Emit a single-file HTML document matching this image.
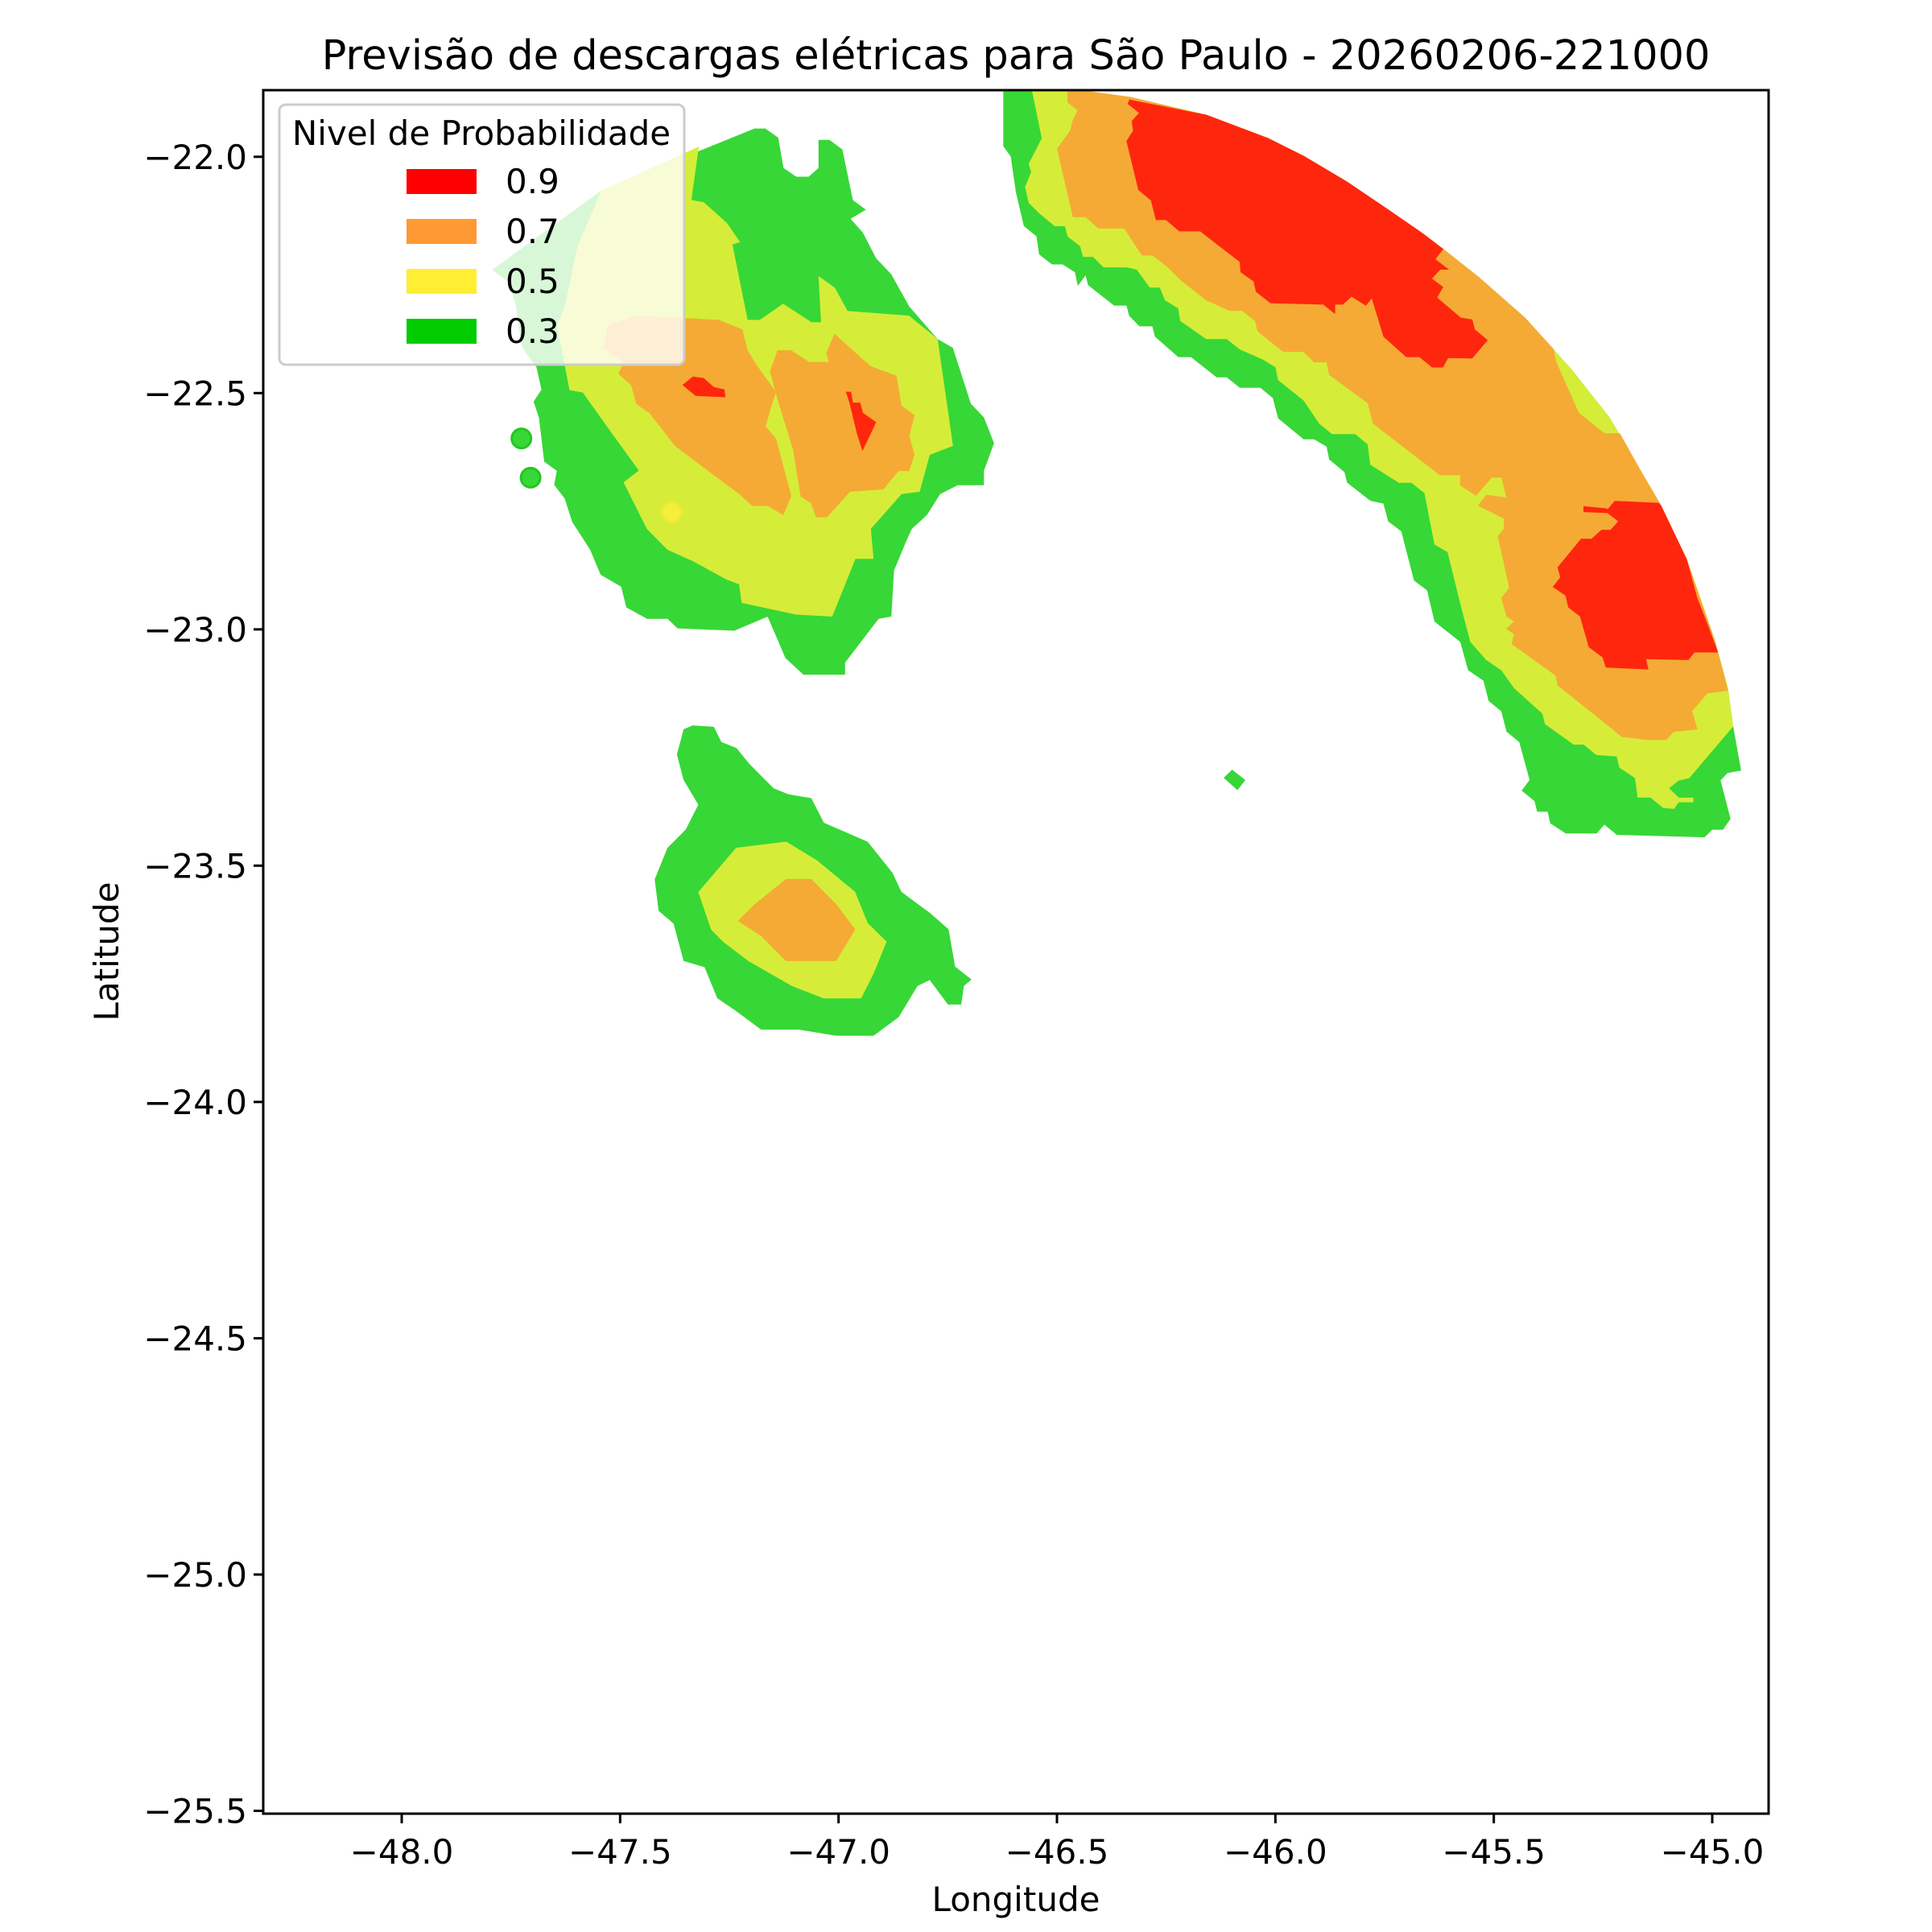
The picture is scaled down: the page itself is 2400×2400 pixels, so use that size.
<!DOCTYPE html>
<html><head><meta charset="utf-8"><style>
html,body{margin:0;padding:0;background:#fff;}
svg{display:block;font-family:"DejaVu Sans","Liberation Sans",sans-serif;}
</style></head><body>
<svg id="chart" width="2400" height="2400" viewBox="0 0 2400 2400" xmlns="http://www.w3.org/2000/svg">
<rect x="0" y="0" width="2400" height="2400" fill="#fff"/>
<defs><clipPath id="plotclip"><rect x="327" y="112" width="1870" height="2141"/></clipPath></defs>
<text x="1262" y="86" font-size="51" text-anchor="middle">Previsão de descargas elétricas para São Paulo - 20260206-221000</text>
<g id="marks" clip-path="url(#plotclip)"></g>
<g id="axes"></g>
<text x="1262" y="2374" font-size="42" text-anchor="middle">Longitude</text>
<text x="0" y="0" font-size="42" text-anchor="middle" transform="translate(147,1182) rotate(-90)">Latitude</text>
<g>
<rect x="347" y="130" width="503" height="323" rx="8" fill="#fff" fill-opacity="0.8" stroke="#ccc" stroke-width="3"/>
<text x="598" y="180" font-size="42" text-anchor="middle">Nivel de Probabilidade</text>
<rect x="505" y="210" width="87" height="31" fill="#ff0000"/>
<text x="628" y="240" font-size="42">0.9</text>
<rect x="505" y="272" width="87" height="31" fill="#ff9933"/>
<text x="628" y="302" font-size="42">0.7</text>
<rect x="505" y="334" width="87" height="31" fill="#ffee33"/>
<text x="628" y="364" font-size="42">0.5</text>
<rect x="505" y="396" width="87" height="31" fill="#00cc00"/>
<text x="628" y="426" font-size="42">0.3</text>
</g>
</svg>
<script>
const xTicks=[-48.0,-47.5,-47.0,-46.5,-46.0,-45.5,-45.0];
const xTickLabels=["−48.0","−47.5","−47.0","−46.5","−46.0","−45.5","−45.0"];
const yTicks=[-22.0,-22.5,-23.0,-23.5,-24.0,-24.5,-25.0,-25.5];
const yTickLabels=["−22.0","−22.5","−23.0","−23.5","−24.0","−24.5","−25.0","−25.5"];
const levels=[0.3,0.5,0.7,0.9];
const arcB=[[-46.463,-21.858],[-46.334,-21.874],[-46.158,-21.912],[-46.017,-21.961],[-45.935,-21.999],[-45.835,-22.054],[-45.741,-22.113],[-45.664,-22.162],[-45.617,-22.195],[-45.535,-22.255],[-45.429,-22.341],[-45.323,-22.450],[-45.235,-22.553],[-45.159,-22.673],[-45.118,-22.738],[-45.059,-22.852],[-44.994,-23.026],[-44.965,-23.124],[-44.953,-23.205],[-44.935,-23.298]];
const greenA=[[-47.791,-22.239],[-47.544,-22.073],[-47.192,-21.941],[-47.168,-21.941],[-47.139,-21.960],[-47.127,-22.024],[-47.097,-22.043],[-47.068,-22.043],[-47.045,-22.024],[-47.045,-21.965],[-47.021,-21.965],[-46.992,-21.985],[-46.968,-22.092],[-46.939,-22.112],[-46.974,-22.131],[-46.945,-22.161],[-46.915,-22.215],[-46.880,-22.249],[-46.839,-22.317],[-46.774,-22.386],[-46.739,-22.405],[-46.698,-22.523],[-46.668,-22.552],[-46.645,-22.606],[-46.668,-22.664],[-46.668,-22.694],[-46.727,-22.694],[-46.768,-22.713],[-46.798,-22.757],[-46.833,-22.787],[-46.845,-22.811],[-46.874,-22.875],[-46.880,-22.972],[-46.909,-22.977],[-46.986,-23.070],[-46.986,-23.095],[-47.080,-23.095],[-47.121,-23.060],[-47.139,-23.021],[-47.162,-22.972],[-47.239,-23.002],[-47.368,-22.997],[-47.391,-22.977],[-47.438,-22.977],[-47.485,-22.953],[-47.497,-22.909],[-47.544,-22.884],[-47.568,-22.831],[-47.609,-22.772],[-47.626,-22.723],[-47.650,-22.694],[-47.644,-22.664],[-47.673,-22.645],[-47.685,-22.552],[-47.697,-22.518],[-47.679,-22.493],[-47.691,-22.444],[-47.715,-22.415],[-47.726,-22.395],[-47.738,-22.312],[-47.756,-22.263]];
const yellowA=[[-47.544,-22.073],[-47.321,-21.980],[-47.338,-22.092],[-47.309,-22.097],[-47.256,-22.141],[-47.227,-22.180],[-47.244,-22.185],[-47.209,-22.346],[-47.180,-22.346],[-47.127,-22.312],[-47.062,-22.351],[-47.039,-22.351],[-47.045,-22.254],[-47.009,-22.278],[-46.980,-22.327],[-46.839,-22.337],[-46.774,-22.386],[-46.739,-22.611],[-46.792,-22.630],[-46.815,-22.708],[-46.856,-22.713],[-46.927,-22.787],[-46.921,-22.850],[-46.962,-22.850],[-47.015,-22.972],[-47.097,-22.968],[-47.221,-22.943],[-47.227,-22.904],[-47.256,-22.894],[-47.333,-22.855],[-47.391,-22.831],[-47.438,-22.787],[-47.491,-22.689],[-47.456,-22.664],[-47.521,-22.581],[-47.585,-22.498],[-47.615,-22.493],[-47.644,-22.356],[-47.626,-22.317],[-47.597,-22.190],[-47.556,-22.102]];
const orangeA1=[[-47.527,-22.356],[-47.462,-22.337],[-47.274,-22.346],[-47.221,-22.366],[-47.209,-22.410],[-47.186,-22.444],[-47.144,-22.498],[-47.156,-22.532],[-47.168,-22.571],[-47.144,-22.596],[-47.109,-22.718],[-47.127,-22.757],[-47.162,-22.738],[-47.197,-22.738],[-47.227,-22.713],[-47.291,-22.669],[-47.374,-22.611],[-47.432,-22.542],[-47.462,-22.523],[-47.474,-22.483],[-47.503,-22.459],[-47.491,-22.435],[-47.538,-22.405]];
const orangeA2=[[-47.139,-22.410],[-47.109,-22.410],[-47.068,-22.435],[-47.021,-22.435],[-47.027,-22.415],[-47.009,-22.376],[-46.962,-22.415],[-46.927,-22.444],[-46.868,-22.464],[-46.857,-22.527],[-46.827,-22.547],[-46.839,-22.591],[-46.827,-22.630],[-46.839,-22.664],[-46.863,-22.664],[-46.898,-22.703],[-46.974,-22.708],[-47.027,-22.762],[-47.051,-22.762],[-47.062,-22.733],[-47.086,-22.718],[-47.103,-22.620],[-47.139,-22.513],[-47.156,-22.454]];
const redA1=[[-47.356,-22.483],[-47.333,-22.466],[-47.309,-22.469],[-47.286,-22.488],[-47.262,-22.493],[-47.260,-22.508],[-47.327,-22.505]];
const redA2=[[-46.982,-22.498],[-46.972,-22.498],[-46.968,-22.521],[-46.951,-22.521],[-46.945,-22.542],[-46.915,-22.562],[-46.945,-22.620],[-46.957,-22.586],[-46.974,-22.521]];
const greenC=[[-47.354,-23.212],[-47.334,-23.204],[-47.286,-23.207],[-47.269,-23.239],[-47.234,-23.252],[-47.206,-23.284],[-47.149,-23.337],[-47.114,-23.350],[-47.063,-23.358],[-47.034,-23.410],[-46.934,-23.450],[-46.877,-23.516],[-46.857,-23.556],[-46.791,-23.601],[-46.749,-23.635],[-46.734,-23.714],[-46.697,-23.741],[-46.714,-23.754],[-46.720,-23.793],[-46.749,-23.793],[-46.791,-23.741],[-46.820,-23.754],[-46.863,-23.820],[-46.920,-23.859],[-47.006,-23.859],[-47.091,-23.846],[-47.177,-23.846],[-47.234,-23.807],[-47.277,-23.780],[-47.306,-23.714],[-47.354,-23.701],[-47.377,-23.622],[-47.411,-23.595],[-47.420,-23.529],[-47.391,-23.463],[-47.349,-23.424],[-47.320,-23.371],[-47.354,-23.318],[-47.369,-23.265]];
const yellowC=[[-47.234,-23.463],[-47.120,-23.450],[-47.049,-23.490],[-46.963,-23.556],[-46.934,-23.622],[-46.891,-23.661],[-46.920,-23.727],[-46.949,-23.780],[-47.034,-23.780],[-47.106,-23.754],[-47.206,-23.701],[-47.263,-23.661],[-47.291,-23.635],[-47.320,-23.556]];
const orangeC=[[-47.191,-23.582],[-47.120,-23.529],[-47.063,-23.529],[-47.006,-23.582],[-46.963,-23.635],[-47.006,-23.701],[-47.120,-23.701],[-47.177,-23.648],[-47.229,-23.617]];
const greenBInner=[[-44.965,-23.303],[-44.982,-23.319],[-44.959,-23.401],[-44.976,-23.423],[-45.000,-23.423],[-45.018,-23.439],[-45.218,-23.434],[-45.247,-23.412],[-45.265,-23.431],[-45.335,-23.431],[-45.370,-23.410],[-45.376,-23.385],[-45.400,-23.385],[-45.406,-23.363],[-45.435,-23.341],[-45.417,-23.319],[-45.441,-23.238],[-45.470,-23.216],[-45.482,-23.173],[-45.511,-23.151],[-45.523,-23.108],[-45.558,-23.086],[-45.576,-23.026],[-45.635,-22.983],[-45.652,-22.917],[-45.682,-22.896],[-45.711,-22.792],[-45.741,-22.771],[-45.752,-22.733],[-45.782,-22.727],[-45.835,-22.689],[-45.841,-22.667],[-45.876,-22.640],[-45.882,-22.613],[-45.911,-22.597],[-45.935,-22.597],[-45.993,-22.553],[-46.005,-22.510],[-46.034,-22.488],[-46.081,-22.488],[-46.111,-22.466],[-46.134,-22.466],[-46.193,-22.423],[-46.222,-22.423],[-46.275,-22.380],[-46.281,-22.358],[-46.311,-22.358],[-46.334,-22.336],[-46.340,-22.314],[-46.369,-22.314],[-46.428,-22.271],[-46.434,-22.249],[-46.452,-22.271],[-46.458,-22.244],[-46.487,-22.227],[-46.511,-22.227],[-46.540,-22.206],[-46.546,-22.168],[-46.575,-22.146],[-46.593,-22.075],[-46.605,-21.999],[-46.622,-21.977]];
const yellowBInner=[[-45.053,-23.314],[-45.077,-23.319],[-45.100,-23.336],[-45.077,-23.357],[-45.044,-23.357],[-45.044,-23.365],[-45.077,-23.365],[-45.088,-23.379],[-45.112,-23.377],[-45.141,-23.355],[-45.170,-23.355],[-45.176,-23.314],[-45.212,-23.292],[-45.218,-23.268],[-45.265,-23.265],[-45.294,-23.243],[-45.317,-23.243],[-45.382,-23.200],[-45.388,-23.178],[-45.453,-23.124],[-45.482,-23.086],[-45.517,-23.064],[-45.553,-23.026],[-45.576,-22.945],[-45.605,-22.836],[-45.635,-22.820],[-45.658,-22.711],[-45.688,-22.689],[-45.717,-22.689],[-45.782,-22.651],[-45.788,-22.608],[-45.817,-22.586],[-45.870,-22.586],[-45.899,-22.564],[-45.935,-22.515],[-45.993,-22.472],[-45.999,-22.445],[-46.029,-22.428],[-46.081,-22.407],[-46.111,-22.385],[-46.158,-22.385],[-46.217,-22.347],[-46.222,-22.320],[-46.252,-22.303],[-46.264,-22.276],[-46.287,-22.276],[-46.317,-22.238],[-46.340,-22.233],[-46.393,-22.233],[-46.417,-22.211],[-46.440,-22.211],[-46.446,-22.189],[-46.475,-22.168],[-46.481,-22.146],[-46.505,-22.146],[-46.540,-22.119],[-46.564,-22.097],[-46.572,-22.064],[-46.558,-22.032],[-46.564,-22.015],[-46.546,-21.983],[-46.534,-21.961]];
const orangeBNotch=[[-45.364,-22.407],[-45.358,-22.434],[-45.306,-22.542],[-45.247,-22.586],[-45.212,-22.586]];
const orangeBInner=[[-44.965,-23.129],[-45.012,-23.135],[-45.047,-23.173],[-45.035,-23.211],[-45.088,-23.216],[-45.106,-23.233],[-45.147,-23.233],[-45.206,-23.227],[-45.353,-23.118],[-45.358,-23.097],[-45.458,-23.031],[-45.453,-23.010],[-45.470,-22.999],[-45.453,-22.983],[-45.470,-22.972],[-45.482,-22.934],[-45.464,-22.912],[-45.490,-22.803],[-45.476,-22.787],[-45.476,-22.765],[-45.535,-22.738],[-45.517,-22.716],[-45.470,-22.722],[-45.482,-22.678],[-45.505,-22.678],[-45.541,-22.716],[-45.576,-22.695],[-45.576,-22.673],[-45.623,-22.673],[-45.776,-22.564],[-45.788,-22.521],[-45.876,-22.461],[-45.882,-22.434],[-45.911,-22.434],[-45.935,-22.412],[-45.982,-22.412],[-46.040,-22.369],[-46.046,-22.347],[-46.076,-22.325],[-46.105,-22.325],[-46.158,-22.303],[-46.217,-22.260],[-46.246,-22.233],[-46.281,-22.208],[-46.305,-22.208],[-46.346,-22.151],[-46.405,-22.151],[-46.434,-22.127],[-46.463,-22.127],[-46.499,-21.983],[-46.469,-21.945],[-46.463,-21.923],[-46.452,-21.901],[-46.475,-21.885]];
const redB1Inner=[[-45.635,-22.217],[-45.605,-22.238],[-45.623,-22.238],[-45.643,-22.258],[-45.617,-22.276],[-45.631,-22.298],[-45.576,-22.341],[-45.550,-22.345],[-45.544,-22.366],[-45.515,-22.388],[-45.550,-22.426],[-45.605,-22.425],[-45.617,-22.445],[-45.641,-22.445],[-45.670,-22.423],[-45.700,-22.423],[-45.752,-22.380],[-45.779,-22.298],[-45.793,-22.314],[-45.826,-22.295],[-45.846,-22.312],[-45.864,-22.312],[-45.864,-22.331],[-45.890,-22.312],[-46.011,-22.309],[-46.044,-22.285],[-46.049,-22.263],[-46.079,-22.244],[-46.081,-22.222],[-46.172,-22.157],[-46.220,-22.157],[-46.250,-22.133],[-46.273,-22.133],[-46.284,-22.092],[-46.313,-22.070],[-46.340,-21.967],[-46.325,-21.945],[-46.328,-21.925],[-46.311,-21.907],[-46.337,-21.888]];
const redB2=[[-45.223,-22.729],[-45.123,-22.733],[-45.118,-22.738],[-45.059,-22.852],[-45.035,-22.934],[-45.012,-22.988],[-44.988,-23.048],[-45.041,-23.048],[-45.055,-23.064],[-45.153,-23.062],[-45.147,-23.084],[-45.243,-23.080],[-45.250,-23.059],[-45.282,-23.037],[-45.302,-22.972],[-45.329,-22.953],[-45.335,-22.928],[-45.364,-22.910],[-45.347,-22.890],[-45.353,-22.869],[-45.300,-22.809],[-45.276,-22.809],[-45.253,-22.790],[-45.232,-22.790],[-45.214,-22.771],[-45.243,-22.751]];
const redB3=[[-45.294,-22.740],[-45.241,-22.745],[-45.241,-22.753],[-45.294,-22.751]];
const greenD=[[-46.117,-23.314],[-46.099,-23.298],[-46.070,-23.319],[-46.087,-23.339]];
const dotLons=[-47.726,-47.705,-47.382];
const dotLats=[-22.596,-22.679,-22.752];
const dotLevels=[0.3,0.3,0.5];

const X0=327,X1=2197,Y0=112,Y1=2253;
const lonMin=-48.317,lonMax=-44.871,latMax=-21.859,latMin=-25.506;
function xs(lon){return X0+(lon-lonMin)/(lonMax-lonMin)*(X1-X0);}
function ys(lat){return Y0+(latMax-lat)/(latMax-latMin)*(Y1-Y0);}
const fillCol={0.3:"#37d737",0.5:"#d5ed38",0.7:"#f5aa35",0.9:"#ff260e"};
const NS="http://www.w3.org/2000/svg";
const marks=document.getElementById('marks');
function poly(pts,level,name){
  const p=document.createElementNS(NS,'polygon');
  p.setAttribute('points',pts.map(q=>xs(q[0]).toFixed(1)+','+ys(q[1]).toFixed(1)).join(' '));
  p.setAttribute('fill',fillCol[level]);
  p.setAttribute('stroke',fillCol[level]);
  p.setAttribute('stroke-width','1');
  
  
  marks.appendChild(p);
}
poly(greenA,levels[0],'contour-0.3-north-west');
poly(yellowA,levels[1],'contour-0.5-north-west');
poly(orangeA1,levels[2],'contour-0.7-north-west-a');
poly(orangeA2,levels[2],'contour-0.7-north-west-b');
poly(redA1,levels[3],'contour-0.9-north-west-a');
poly(redA2,levels[3],'contour-0.9-north-west-b');
poly(greenC,levels[0],'contour-0.3-south');
poly(yellowC,levels[1],'contour-0.5-south');
poly(orangeC,levels[2],'contour-0.7-south');
poly([[-46.622,-21.852]].concat(arcB,greenBInner),levels[0],'contour-0.3-east-arc');
poly([[-46.558,-21.852]].concat(arcB.slice(0,19),yellowBInner),levels[1],'contour-0.5-east-arc');
poly([[-46.475,-21.856]].concat(arcB.slice(1,11),orangeBNotch,arcB.slice(13,17),orangeBInner),levels[2],'contour-0.7-east-arc');
poly([[-46.334,-21.880]].concat(arcB.slice(2,9),redB1Inner),levels[3],'contour-0.9-east-north');
poly(redB2,levels[3],'contour-0.9-east-south');
poly(redB3,levels[3],'contour-0.9-east-sliver');
poly(greenD,levels[0],'contour-0.3-small-cell');
for(let i=0;i<dotLons.length;i++){
  const c=document.createElementNS(NS,'circle');
  c.setAttribute('cx',xs(dotLons[i]));
  c.setAttribute('cy',ys(dotLats[i]));
  c.setAttribute('r','12');
  c.setAttribute('fill',dotLevels[i]===0.5?'#f5ee3a':'#37d737');
  c.setAttribute('stroke',dotLevels[i]===0.5?'#f0ea30':'#22c822');
  c.setAttribute('stroke-width','3');
  
  
  marks.appendChild(c);
}
const axes=document.getElementById('axes');
const frame=document.createElementNS(NS,'rect');
frame.setAttribute('x',X0);frame.setAttribute('y',Y0);
frame.setAttribute('width',X1-X0);frame.setAttribute('height',Y1-Y0);
frame.setAttribute('fill','none');frame.setAttribute('stroke','#000');frame.setAttribute('stroke-width','3');


axes.appendChild(frame);
for(let i=0;i<xTicks.length;i++){
  const x=xs(xTicks[i]);
  const l=document.createElementNS(NS,'line');
  l.setAttribute('x1',x);l.setAttribute('x2',x);l.setAttribute('y1',Y1);l.setAttribute('y2',Y1+12);
  l.setAttribute('stroke','#000');l.setAttribute('stroke-width','3');
  
  
  axes.appendChild(l);
  const t=document.createElementNS(NS,'text');
  t.setAttribute('x',x);t.setAttribute('y',Y1+62);t.setAttribute('font-size','42');t.setAttribute('text-anchor','middle');
  t.textContent=xTickLabels[i];
  
  
  axes.appendChild(t);
}
for(let i=0;i<yTicks.length;i++){
  const y=ys(yTicks[i]);
  const l=document.createElementNS(NS,'line');
  l.setAttribute('x1',X0-12);l.setAttribute('x2',X0);l.setAttribute('y1',y);l.setAttribute('y2',y);
  l.setAttribute('stroke','#000');l.setAttribute('stroke-width','3');
  
  
  axes.appendChild(l);
  const t=document.createElementNS(NS,'text');
  t.setAttribute('x',X0-20);t.setAttribute('y',y+15);t.setAttribute('font-size','42');t.setAttribute('text-anchor','end');
  t.textContent=yTickLabels[i];
  
  
  axes.appendChild(t);
}
</script>
</body></html>
